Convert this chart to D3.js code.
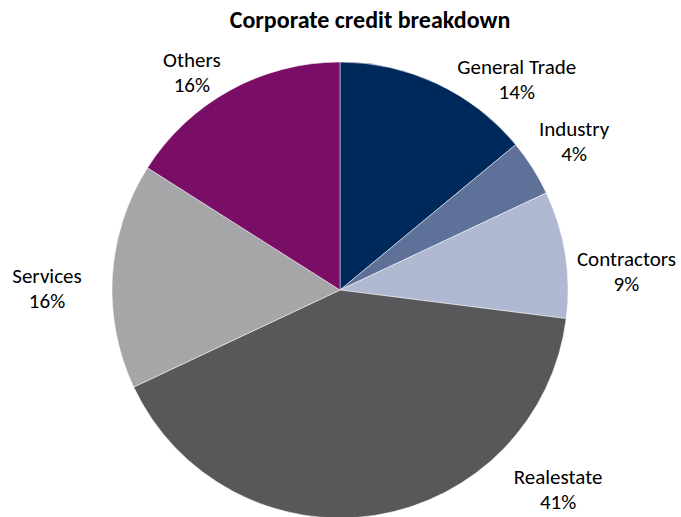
<!DOCTYPE html>
<html>
<head>
<meta charset="utf-8">
<script src="https://cdn.jsdelivr.net/npm/d3@7"></script>
<style>
  html, body { margin: 0; padding: 0; background: #fff; }
  svg { display: block; }
  text { font-family: Carlito, Calibri, Lato, "Open Sans", sans-serif; fill: #000; }
</style>
</head>
<body>
<svg id="chart" width="681" height="517"></svg>
<script>
// Corporate credit split by sector (percent of total)
const categories = ["General Trade", "Industry", "Contractors", "Realestate", "Services", "Others"];
const shares = [14, 4, 9, 41, 16, 16];
const colors = ["#00295B", "#5E7299", "#B0B9D2", "#58585A", "#A6A6A8", "#7A0E67"];
const title = "Corporate credit breakdown";

// Label placement around the pie: polar angle (degrees clockwise from top) and distance from centre
const labelLayout = [
  { angle: 40, dist: 275 },
  { angle: 57.7, dist: 277 },
  { angle: 86.4, dist: 287 },
  { angle: 132.5, dist: 295.8 },
  { angle: 270.2, dist: 293 },
  { angle: 325.7, dist: 263 }
];

const width = 681, height = 517;
const cx = 340, cy = 290, radius = 228;

const svg = d3.select("#chart");

svg.append("text")
  .attr("x", 370)
  .attr("y", 28)
  .attr("text-anchor", "middle")
  .attr("font-size", 24)
  .attr("font-weight", "bold")
  .text(title);

const data = categories.map((c, i) => ({ name: c, value: shares[i], color: colors[i] }));

const pie = d3.pie().value(d => d.value).sort(null);
const arc = d3.arc().innerRadius(0).outerRadius(radius);

const g = svg.append("g").attr("transform", `translate(${cx},${cy})`);

g.selectAll("path.slice")
  .data(pie(data))
  .join("path")
  .attr("class", "slice")
  .attr("d", arc)
  .attr("fill", d => d.data.color)
  .attr("stroke", "#fff")
  .attr("stroke-width", 0.5);

const labels = g.selectAll("g.label")
  .data(pie(data))
  .join("g")
  .attr("class", "label")
  .attr("transform", (d, i) => {
    const a = labelLayout[i].angle * Math.PI / 180;
    const r = labelLayout[i].dist;
    return `translate(${r * Math.sin(a)},${-r * Math.cos(a)})`;
  });

labels.append("text")
  .attr("text-anchor", "middle")
  .attr("font-size", 21)
  .attr("y", -5.5)
  .text(d => d.data.name);

labels.append("text")
  .attr("text-anchor", "middle")
  .attr("font-size", 21)
  .attr("y", 19.5)
  .text(d => d3.format(".0f")(d.data.value) + "%");
</script>
</body>
</html>
